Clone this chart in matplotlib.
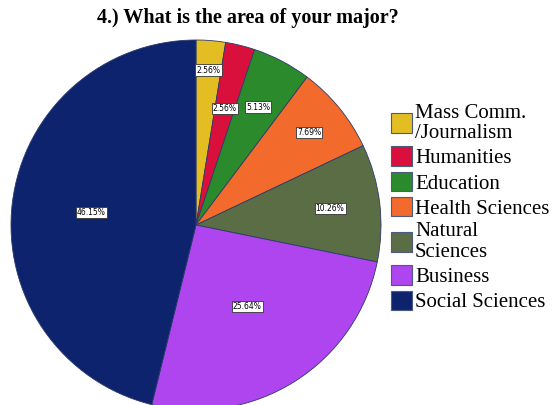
import numpy as np
import matplotlib.pyplot as plt
from matplotlib.patches import Patch

majors = ["Mass Comm.\n/Journalism", "Humanities", "Education", "Health Sciences",
          "Natural\nSciences", "Business", "Social Sciences"]
counts = [1, 1, 2, 3, 4, 10, 18]
colors = ["#E3BE22", "#D9103C", "#2B8A2B", "#F26A2C", "#5B6D45", "#AE45EE", "#0E236E"]
# radial position of each percentage box (fraction of radius)
label_r = [0.84, 0.65, 0.72, 0.79, 0.73, 0.52, 0.57]

fig = plt.figure(figsize=(5.56, 4.05), dpi=100)
ax = fig.add_axes([11 / 556, -5 / 405, 370 / 556, 370 / 405])

wedges, _ = ax.pie(counts, colors=colors, startangle=90, counterclock=False,
                   radius=1, wedgeprops=dict(edgecolor="#2a3a6a", linewidth=0.6))
ax.set_xlim(-1, 1)
ax.set_ylim(-1, 1)
ax.set_aspect("equal")

total = sum(counts)
for w, c, r in zip(wedges, counts, label_r):
    mid = np.deg2rad((w.theta1 + w.theta2) / 2)
    ax.text(r * np.cos(mid), r * np.sin(mid), f"{100 * c / total:.2f}%",
            ha="center", va="center", fontsize=5.5, family="DejaVu Sans",
            bbox=dict(boxstyle="square,pad=0.15", fc="white", ec="#333333", lw=0.6))

handles = [Patch(facecolor=c, edgecolor="#4a5a80", linewidth=0.8) for c in colors]
leg = fig.legend(handles, majors, loc="upper left", bbox_to_anchor=(378 / 556, 1 - 91 / 405),
                 frameon=False, prop=dict(family="Liberation Serif", size=15),
                 handlelength=1.05, handleheight=1.05, handletextpad=0.12,
                 labelspacing=0.17, borderpad=0.1)
for t in leg.get_texts():
    t.set_linespacing(1.1)

fig.text(248 / 556, 1 - 18 / 405, "4.) What is the area of your major?",
         ha="center", va="center", fontsize=14.5, fontweight="bold",
         family="Liberation Serif")

fig.savefig("out.png", dpi=100)
